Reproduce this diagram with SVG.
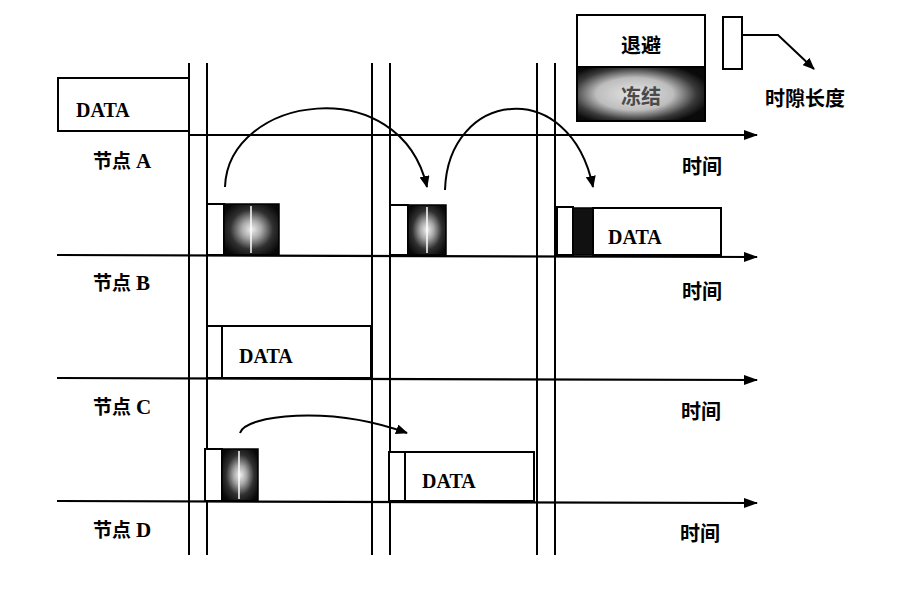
<svg xmlns="http://www.w3.org/2000/svg" width="923" height="614" viewBox="0 0 923 614">
<style>
.ln{stroke:#000;stroke-width:2;fill:none}
.box{stroke:#000;stroke-width:2;fill:#fff}
.dk{stroke:#000;stroke-width:1.5;fill:url(#dark)}
.data{font-family:"Liberation Serif",serif;font-weight:bold;font-size:20px;fill:#000}
.cn{font-family:"Noto Sans CJK SC","Noto Sans",sans-serif;font-size:20px;font-weight:bold;fill:#000}
.nd{font-family:"Noto Sans CJK SC","Noto Sans",sans-serif;font-size:19px;font-weight:bold;fill:#000}
.lat{font-family:"Liberation Serif",serif;font-weight:bold;font-size:21px}
.arc{stroke:#000;stroke-width:2;fill:none;marker-end:url(#ah)}
.ax{stroke:#000;stroke-width:2.2;fill:none;marker-end:url(#axh)}
</style>
<defs>
<radialGradient id="dark" cx="0.5" cy="0.5" r="0.6">
<stop offset="0" stop-color="#f0f0f0"/>
<stop offset="0.3" stop-color="#a8a8a8"/>
<stop offset="0.65" stop-color="#303030"/>
<stop offset="1" stop-color="#080808"/>
</radialGradient>
<radialGradient id="frz" cx="0.45" cy="0.5" r="0.6">
<stop offset="0" stop-color="#e6e6e6"/>
<stop offset="0.5" stop-color="#bdbdbd"/>
<stop offset="0.8" stop-color="#3a3a3a"/>
<stop offset="1" stop-color="#0a0a0a"/>
</radialGradient>
<marker id="ah" viewBox="0 0 12 10" refX="11" refY="5" markerWidth="12" markerHeight="10" markerUnits="userSpaceOnUse" orient="auto">
<path d="M0,0 L12,5 L0,10 Z" fill="#000"/>
</marker>
<marker id="axh" viewBox="0 0 14 10" refX="13" refY="5" markerWidth="14" markerHeight="10" markerUnits="userSpaceOnUse" orient="auto">
<path d="M0,0 L14,5 L0,10 Z" fill="#000"/>
</marker>
</defs>

<g id="slot-lines">
<line class="ln" x1="189" y1="63" x2="189" y2="555"/>
<line class="ln" x1="207" y1="63" x2="207" y2="555"/>
<line class="ln" x1="372" y1="63" x2="372" y2="555"/>
<line class="ln" x1="390" y1="63" x2="390" y2="555"/>
<line class="ln" x1="537" y1="63" x2="537" y2="555"/>
<line class="ln" x1="555" y1="63" x2="555" y2="555"/>
</g>

<g id="legend">
<rect class="box" x="577" y="15" width="128" height="52"/>
<text class="cn" x="641" y="53" text-anchor="middle">退避</text>
<rect x="577" y="67" width="128" height="54" fill="url(#frz)" stroke="#000" stroke-width="2"/>
<text class="cn" x="641" y="104" text-anchor="middle" style="fill:#4a4a4a">冻结</text>
<rect class="box" x="723" y="17" width="19" height="52"/>
<path class="arc" d="M742,35 L778,35 L814,69"/>
<text class="cn" x="805" y="106" text-anchor="middle">时隙长度</text>
</g>

<g id="node-A">
<rect class="box" x="58" y="78" width="131" height="53"/>
<text class="data" x="76" y="117">DATA</text>
<text class="nd" x="93" y="168">节点<tspan class="lat" x="136">A</tspan></text>
<text class="cn" x="702" y="174" text-anchor="middle">时间</text>
<rect class="box" x="207" y="204" width="17" height="51"/>
<rect class="dk" x="224" y="204" width="55" height="51"/>
<line x1="251" y1="206" x2="251" y2="253" stroke="#fff" stroke-width="1.5"/>
<rect class="box" x="390" y="205" width="18" height="50"/>
<rect class="dk" x="408" y="205" width="38" height="50"/>
<line x1="427" y1="207" x2="427" y2="253" stroke="#fff" stroke-width="1.5"/>
<rect class="box" x="557" y="207" width="16" height="48"/>
<rect x="573" y="208" width="20" height="47" fill="#111" stroke="#000" stroke-width="1.5"/>
<rect class="box" x="593" y="208" width="128" height="47"/>
<text class="data" x="608" y="244">DATA</text>
</g>

<g id="node-B">
<text class="nd" x="93" y="290">节点<tspan class="lat" x="136">B</tspan></text>
<text class="cn" x="702" y="299" text-anchor="middle">时间</text>
<rect class="box" x="207" y="326" width="15" height="52"/>
<rect class="box" x="222" y="326" width="149" height="52"/>
<text class="data" x="239" y="363">DATA</text>
</g>

<g id="node-C">
<text class="nd" x="93" y="414">节点<tspan class="lat" x="136">C</tspan></text>
<text class="cn" x="701" y="419" text-anchor="middle">时间</text>
<rect class="box" x="205" y="449" width="17" height="52"/>
<rect class="dk" x="222" y="449" width="36" height="52"/>
<line x1="239" y1="451" x2="239" y2="499" stroke="#fff" stroke-width="1.5"/>
<rect class="box" x="389" y="452" width="16" height="49"/>
<rect class="box" x="405" y="452" width="129" height="49"/>
<text class="data" x="422" y="488">DATA</text>
</g>

<g id="node-D">
<text class="nd" x="93" y="537">节点<tspan class="lat" x="136">D</tspan></text>
<text class="cn" x="700" y="541" text-anchor="middle">时间</text>
</g>

<g id="connectors">
<path class="ax" d="M189,135 L757,135"/>
<path class="ax" d="M57,255 L757,257"/>
<path class="ax" d="M57,378 L757,380"/>
<path class="ax" d="M57,501 L757,503"/>
<path class="arc" d="M225,187 C228,95 400,70 427,187"/>
<path class="arc" d="M445,190 C448,90 570,75 593,187"/>
<path class="arc" d="M240,433 C245,415 330,405 407,433"/>
</g>
</svg>
